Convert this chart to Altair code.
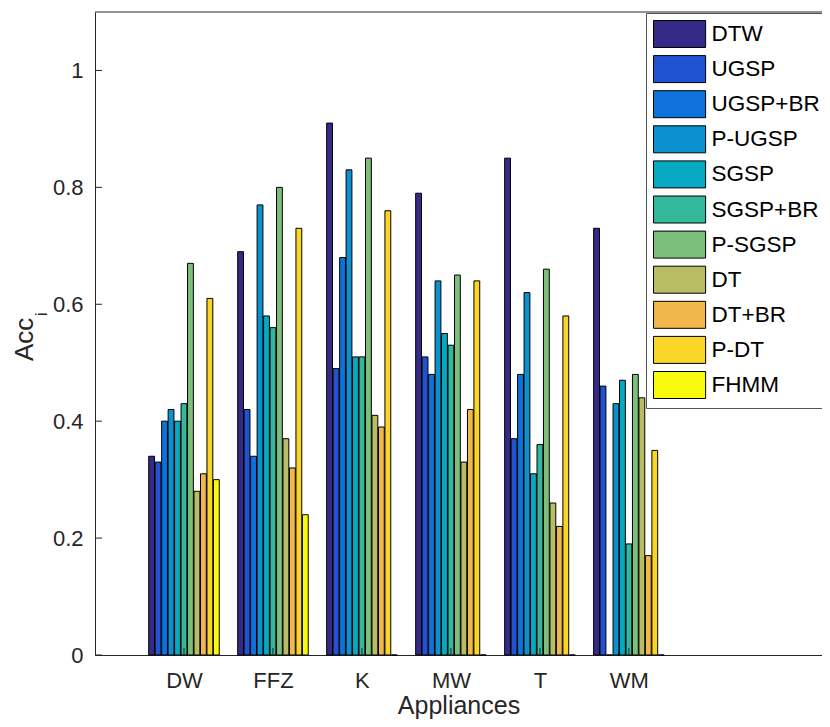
import altair as alt
import pandas as pd

appliances = ["DW", "FFZ", "K", "MW", "T", "WM"]
methods = ["DTW", "UGSP", "UGSP+BR", "P-UGSP", "SGSP", "SGSP+BR",
           "P-SGSP", "DT", "DT+BR", "P-DT", "FHMM"]

dtw      = [0.34, 0.69, 0.91, 0.79, 0.85, 0.73]
ugsp     = [0.33, 0.42, 0.49, 0.51, 0.37, 0.46]
ugsp_br  = [0.40, 0.34, 0.68, 0.48, 0.48, 0.00]
p_ugsp   = [0.42, 0.77, 0.83, 0.64, 0.62, 0.43]
sgsp     = [0.40, 0.58, 0.51, 0.55, 0.31, 0.47]
sgsp_br  = [0.43, 0.56, 0.51, 0.53, 0.36, 0.19]
p_sgsp   = [0.67, 0.80, 0.85, 0.65, 0.66, 0.48]
dt       = [0.28, 0.37, 0.41, 0.33, 0.26, 0.44]
dt_br    = [0.31, 0.32, 0.39, 0.42, 0.22, 0.17]
p_dt     = [0.61, 0.73, 0.76, 0.64, 0.58, 0.35]
fhmm     = [0.30, 0.24, 0.00, 0.00, 0.00, 0.00]

series_values = [dtw, ugsp, ugsp_br, p_ugsp, sgsp, sgsp_br, p_sgsp, dt, dt_br, p_dt, fhmm]

colors = ["#352a87", "#2052d2", "#0e72dc", "#0b91d0", "#06a9c1", "#34b89c",
          "#7bbf7b", "#b8bc62", "#f2b74a", "#f8d527", "#f9fb0e"]

y_ticks = [0, 0.2, 0.4, 0.6, 0.8, 1.0]
x_ticks = [1, 2, 3, 4, 5, 6]

y_title_main = "Acc"
y_title_sub = "i"

W, H = 727, 643
FONT = "Liberation Sans, Arial, DejaVu Sans"

# grouped-bar geometry (MATLAB style)
n = len(methods)
group_width = 0.8
slot = group_width / n
rows = []
for si, (m, vals) in enumerate(zip(methods, series_values)):
    for gi, (a, v) in enumerate(zip(appliances, vals)):
        c = gi + 1 - group_width / 2 + slot * (si + 0.5)
        rows.append(dict(appliance=a, method=m, acc=v, base=0.0,
                         x0=c - slot * 0.45, x1=c + slot * 0.45))
df = pd.DataFrame(rows)

xs = alt.Scale(domain=[0, 8.17], nice=False, zero=False)
ys = alt.Scale(domain=[0, 1.1], nice=False)

label_expr = "[" + ",".join("'%s'" % a for a in appliances) + "][datum.value - 1]"

x_axis = alt.Axis(values=x_ticks, labelExpr=label_expr, title="Appliances",
                  labelPadding=15, titlePadding=2, labelFlush=False,
                  labelOverlap=False)
y_axis = alt.Axis(values=y_ticks, format="~g", title=None, labelPadding=12)

bars = alt.Chart(df).mark_bar(stroke="black", strokeWidth=1, opacity=1).encode(
    x=alt.X("x0:Q", scale=xs, axis=x_axis),
    x2="x1:Q",
    y=alt.Y("acc:Q", scale=ys, axis=y_axis),
    y2="base:Q",
    color=alt.Color("method:N", scale=alt.Scale(domain=methods, range=colors),
                    legend=alt.Legend(title=None, orient="none", legendX=551, legendY=1,
                                      symbolType="M-1,-1H2.86V1H-1Z",
                                      symbolSize=729, symbolStrokeColor="black",
                                      symbolStrokeWidth=1, symbolOpacity=1,
                                      labelFont=FONT, labelFontSize=22.5,
                                      labelColor="black", labelOffset=30.5,
                                      rowPadding=3.1, padding=7, labelLimit=0,
                                      strokeColor="#555555", fillColor="white")),
)

xt = alt.Chart(pd.DataFrame({"p": x_ticks})).mark_rule(color="#262626", strokeWidth=1).encode(
    x=alt.X("p:Q", scale=xs, axis=x_axis),
    y=alt.value(H), y2=alt.value(H - 7),
)
yt = alt.Chart(pd.DataFrame({"v": y_ticks})).mark_rule(color="#262626", strokeWidth=1).encode(
    y=alt.Y("v:Q", scale=ys, axis=y_axis),
    x=alt.value(0), x2=alt.value(7),
)
top = alt.Chart(pd.DataFrame({"v": [0]})).mark_rule(color="#262626", strokeWidth=1).encode(
    x=alt.value(0), x2=alt.value(W), y=alt.value(0),
)

ytitle = alt.Chart(pd.DataFrame({"t": [y_title_main]})).mark_text(
    angle=270, align="left", baseline="alphabetic", fontSize=26, font=FONT, color="#262626"
).encode(text="t:N", x=alt.value(-62), y=alt.value(349))
ysub = alt.Chart(pd.DataFrame({"t": [y_title_sub]})).mark_text(
    angle=270, align="left", baseline="alphabetic", fontSize=16, font=FONT, color="#262626"
).encode(text="t:N", x=alt.value(-48), y=alt.value(304))

chart = alt.layer(bars, xt, yt, top, ytitle, ysub).properties(
    width=W, height=H,
    autosize=alt.AutoSizeParams(type="none"),
    padding={"left": 87, "top": 4, "right": 0, "bottom": 64},
).configure_view(stroke=None).configure_axis(
    grid=False, ticks=False, domainColor="#262626", domainWidth=1,
    labelFont=FONT, labelFontSize=22, labelColor="#262626",
    titleFont=FONT, titleFontSize=25, titleColor="#262626", titleFontWeight="normal",
)

chart.save("out.html", embed_options={"renderer": "svg", "actions": False})
